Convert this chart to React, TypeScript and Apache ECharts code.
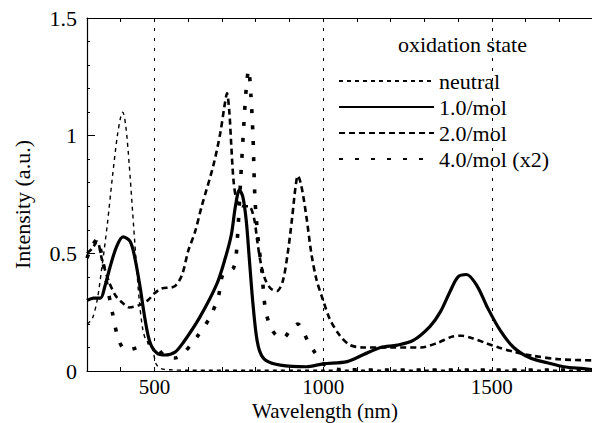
import React, { useEffect, useRef } from "react";
import * as echarts from "echarts";

const xTickLabels = [500, 1000, 1500];
const gridLinesX = [500, 1000, 1500];
const seriesNames = ["neutral", "1.0/mol", "2.0/mol", "4.0/mol (x2)"];

const neutral: [number, number][] = [
  [300, 0.2], [315, 0.22], [330, 0.3], [345, 0.45], [360, 0.62], [375, 0.82], [390, 1.0],
  [400, 1.08], [406, 1.1], [415, 1.04], [425, 0.88], [435, 0.68], [445, 0.48], [455, 0.3],
  [465, 0.18], [475, 0.13], [485, 0.12], [495, 0.09], [505, 0.03], [520, 0.01], [550, 0.005],
  [600, 0.003], [800, 0.003], [1000, 0.003], [1200, 0.003], [1500, 0.003], [1800, 0.003],
];

const mol1: [number, number][] = [
  [300, 0.3], [320, 0.31], [340, 0.31], [353, 0.36], [368, 0.44], [388, 0.53], [407, 0.57],
  [428, 0.55], [442, 0.48], [457, 0.36], [472, 0.22], [487, 0.12], [508, 0.075], [532, 0.068],
  [561, 0.08], [585, 0.12], [635, 0.23], [685, 0.37], [710, 0.48], [728, 0.58], [740, 0.7],
  [752, 0.77], [762, 0.74], [772, 0.64], [781, 0.48], [791, 0.3], [802, 0.15], [813, 0.08],
  [830, 0.045], [873, 0.025], [950, 0.018], [1000, 0.03], [1071, 0.04], [1120, 0.07],
  [1170, 0.1], [1220, 0.11], [1267, 0.13], [1317, 0.19], [1347, 0.25], [1377, 0.34],
  [1400, 0.4], [1425, 0.41], [1457, 0.36], [1487, 0.27], [1526, 0.17], [1565, 0.1],
  [1614, 0.055], [1665, 0.035], [1713, 0.018], [1772, 0.01], [1800, 0.006],
];

const mol2: [number, number][] = [
  [300, 0.5], [315, 0.52], [330, 0.55], [345, 0.47], [365, 0.38], [385, 0.32], [405, 0.29],
  [425, 0.27], [455, 0.28], [480, 0.3], [500, 0.33], [520, 0.35], [560, 0.36], [582, 0.41],
  [600, 0.51], [620, 0.59], [640, 0.7], [674, 0.87], [695, 1.01], [708, 1.13], [715, 1.18],
  [722, 1.1], [728, 0.95], [735, 0.8], [745, 0.72], [760, 0.7], [780, 0.7], [795, 0.65],
  [805, 0.55], [815, 0.46], [828, 0.39], [845, 0.35], [863, 0.34], [880, 0.38], [895, 0.5],
  [908, 0.65], [918, 0.78], [925, 0.83], [935, 0.79], [950, 0.66], [965, 0.5], [980, 0.39],
  [1000, 0.3], [1020, 0.22], [1050, 0.15], [1080, 0.11], [1120, 0.1], [1200, 0.1],
  [1290, 0.1], [1340, 0.12], [1380, 0.145], [1410, 0.15], [1440, 0.14], [1480, 0.12],
  [1520, 0.1], [1570, 0.08], [1620, 0.065], [1700, 0.05], [1800, 0.045],
];

const mol4: [number, number][] = [
  [300, 0.48], [315, 0.53], [330, 0.56], [345, 0.48], [360, 0.36], [375, 0.25], [390, 0.15],
  [405, 0.1], [420, 0.09], [450, 0.1], [480, 0.12], [500, 0.11], [530, 0.065], [560, 0.055],
  [582, 0.07], [626, 0.145], [665, 0.23], [690, 0.32], [703, 0.41], [735, 0.44], [745, 0.55],
  [755, 0.8], [765, 1.05], [772, 1.2], [779, 1.28], [786, 1.17], [792, 1.0], [798, 0.73],
  [808, 0.55], [818, 0.43], [828, 0.27], [843, 0.19], [862, 0.15], [882, 0.14], [905, 0.18],
  [925, 0.2], [940, 0.17], [957, 0.12], [975, 0.08], [990, 0.05], [1010, 0.02], [1050, 0.006],
  [1200, 0.004], [1500, 0.004], [1800, 0.004],
];

const FONT = "Liberation Serif";

export default function App() {
  const ref = useRef<HTMLDivElement>(null);
  useEffect(() => {
    if (!ref.current) return;
    const chart = echarts.init(ref.current, undefined, { renderer: "svg" });
    const baseLine = { symbol: "none", showSymbol: false, silent: true, smooth: 0.3, z: 3 };
    chart.setOption({
      animation: false,
      backgroundColor: "#fff",
      textStyle: { fontFamily: FONT },
      title: {
        text: "oxidation state",
        left: 398,
        top: 33,
        padding: 0,
        textStyle: { fontSize: 22, fontWeight: "normal", fontFamily: FONT, color: "#000" },
      },
      legend: {
        data: seriesNames,
        orient: "vertical",
        left: 338,
        top: 70,
        padding: 0,
        itemWidth: 95,
        itemHeight: 14,
        itemGap: 4,
        selectedMode: false,
        itemStyle: { color: "transparent", borderWidth: 0, opacity: 0 },
        textStyle: { fontSize: 22, fontFamily: FONT, color: "#000" },
      },
      grid: { left: 87, top: 18, right: -1, bottom: 52, outerBoundsMode: "none" },
      xAxis: [
        {
          type: "value",
          min: 300,
          max: 1800,
          interval: 100,
          name: "Wavelength (nm)",
          nameLocation: "middle",
          nameGap: 29,
          nameMoveOverlap: false,
          nameTextStyle: {
            fontSize: 21,
            fontFamily: FONT,
            color: "#000",
            padding: [0, 30, 0, 0],
          },
          axisLine: { lineStyle: { color: "#000", width: 1.2 } },
          axisTick: { inside: true, length: 4, lineStyle: { color: "#000" } },
          axisLabel: {
            fontSize: 21,
            fontFamily: FONT,
            color: "#000",
            margin: 5,
            formatter: (v: number) => (xTickLabels.includes(v) ? String(v) : ""),
          },
          splitLine: { show: false },
        },
        {
          type: "value",
          position: "top",
          min: 300,
          max: 1800,
          interval: 100,
          axisLine: { lineStyle: { color: "#000", width: 1.2 } },
          axisTick: { inside: true, length: 4, lineStyle: { color: "#000" } },
          axisLabel: { show: false },
          splitLine: { show: false },
        },
      ],
      yAxis: {
        type: "value",
        min: 0,
        max: 1.5,
        interval: 0.5,
        name: "Intensity (a.u.)",
        nameLocation: "middle",
        nameGap: 54,
        nameTextStyle: { fontSize: 22, fontFamily: FONT, color: "#000", padding: [0, 20, 0, 0] },
        axisLine: { lineStyle: { color: "#000", width: 1.2 } },
        axisTick: { inside: true, length: 8, lineStyle: { color: "#000" } },
        minorTick: { show: true, splitNumber: 5, length: 3, lineStyle: { color: "#000" } },
        axisLabel: { fontSize: 22, fontFamily: FONT, color: "#000", margin: 10 },
        splitLine: { show: false },
      },
      series: [
        {
          ...baseLine,
          name: seriesNames[0],
          type: "line",
          data: neutral,
          lineStyle: { color: "#000", width: 1.4, type: [4, 4] },
          itemStyle: { color: "#000" },
          markLine: {
            symbol: "none",
            silent: true,
            label: { show: false },
            lineStyle: { color: "#000", width: 1, type: [3, 7] },
            data: gridLinesX.map((v) => ({ xAxis: v })),
          },
        },
        {
          ...baseLine,
          name: seriesNames[1],
          type: "line",
          data: mol1,
          lineStyle: { color: "#000", width: 3.2, type: "solid" },
          itemStyle: { color: "#000" },
        },
        {
          ...baseLine,
          name: seriesNames[2],
          type: "line",
          data: mol2,
          lineStyle: { color: "#000", width: 2.6, type: [6, 4] },
          itemStyle: { color: "#000" },
        },
        {
          ...baseLine,
          name: seriesNames[3],
          type: "line",
          data: mol4,
          lineStyle: { color: "#000", width: 3.6, type: [4, 12] },
          itemStyle: { color: "#000" },
        },
      ],
    });
    return () => chart.dispose();
  }, []);
  return (
    <div
      ref={ref}
      style={{ position: "absolute", left: 0, top: 0, width: 592, height: 423 }}
    />
  );
}
